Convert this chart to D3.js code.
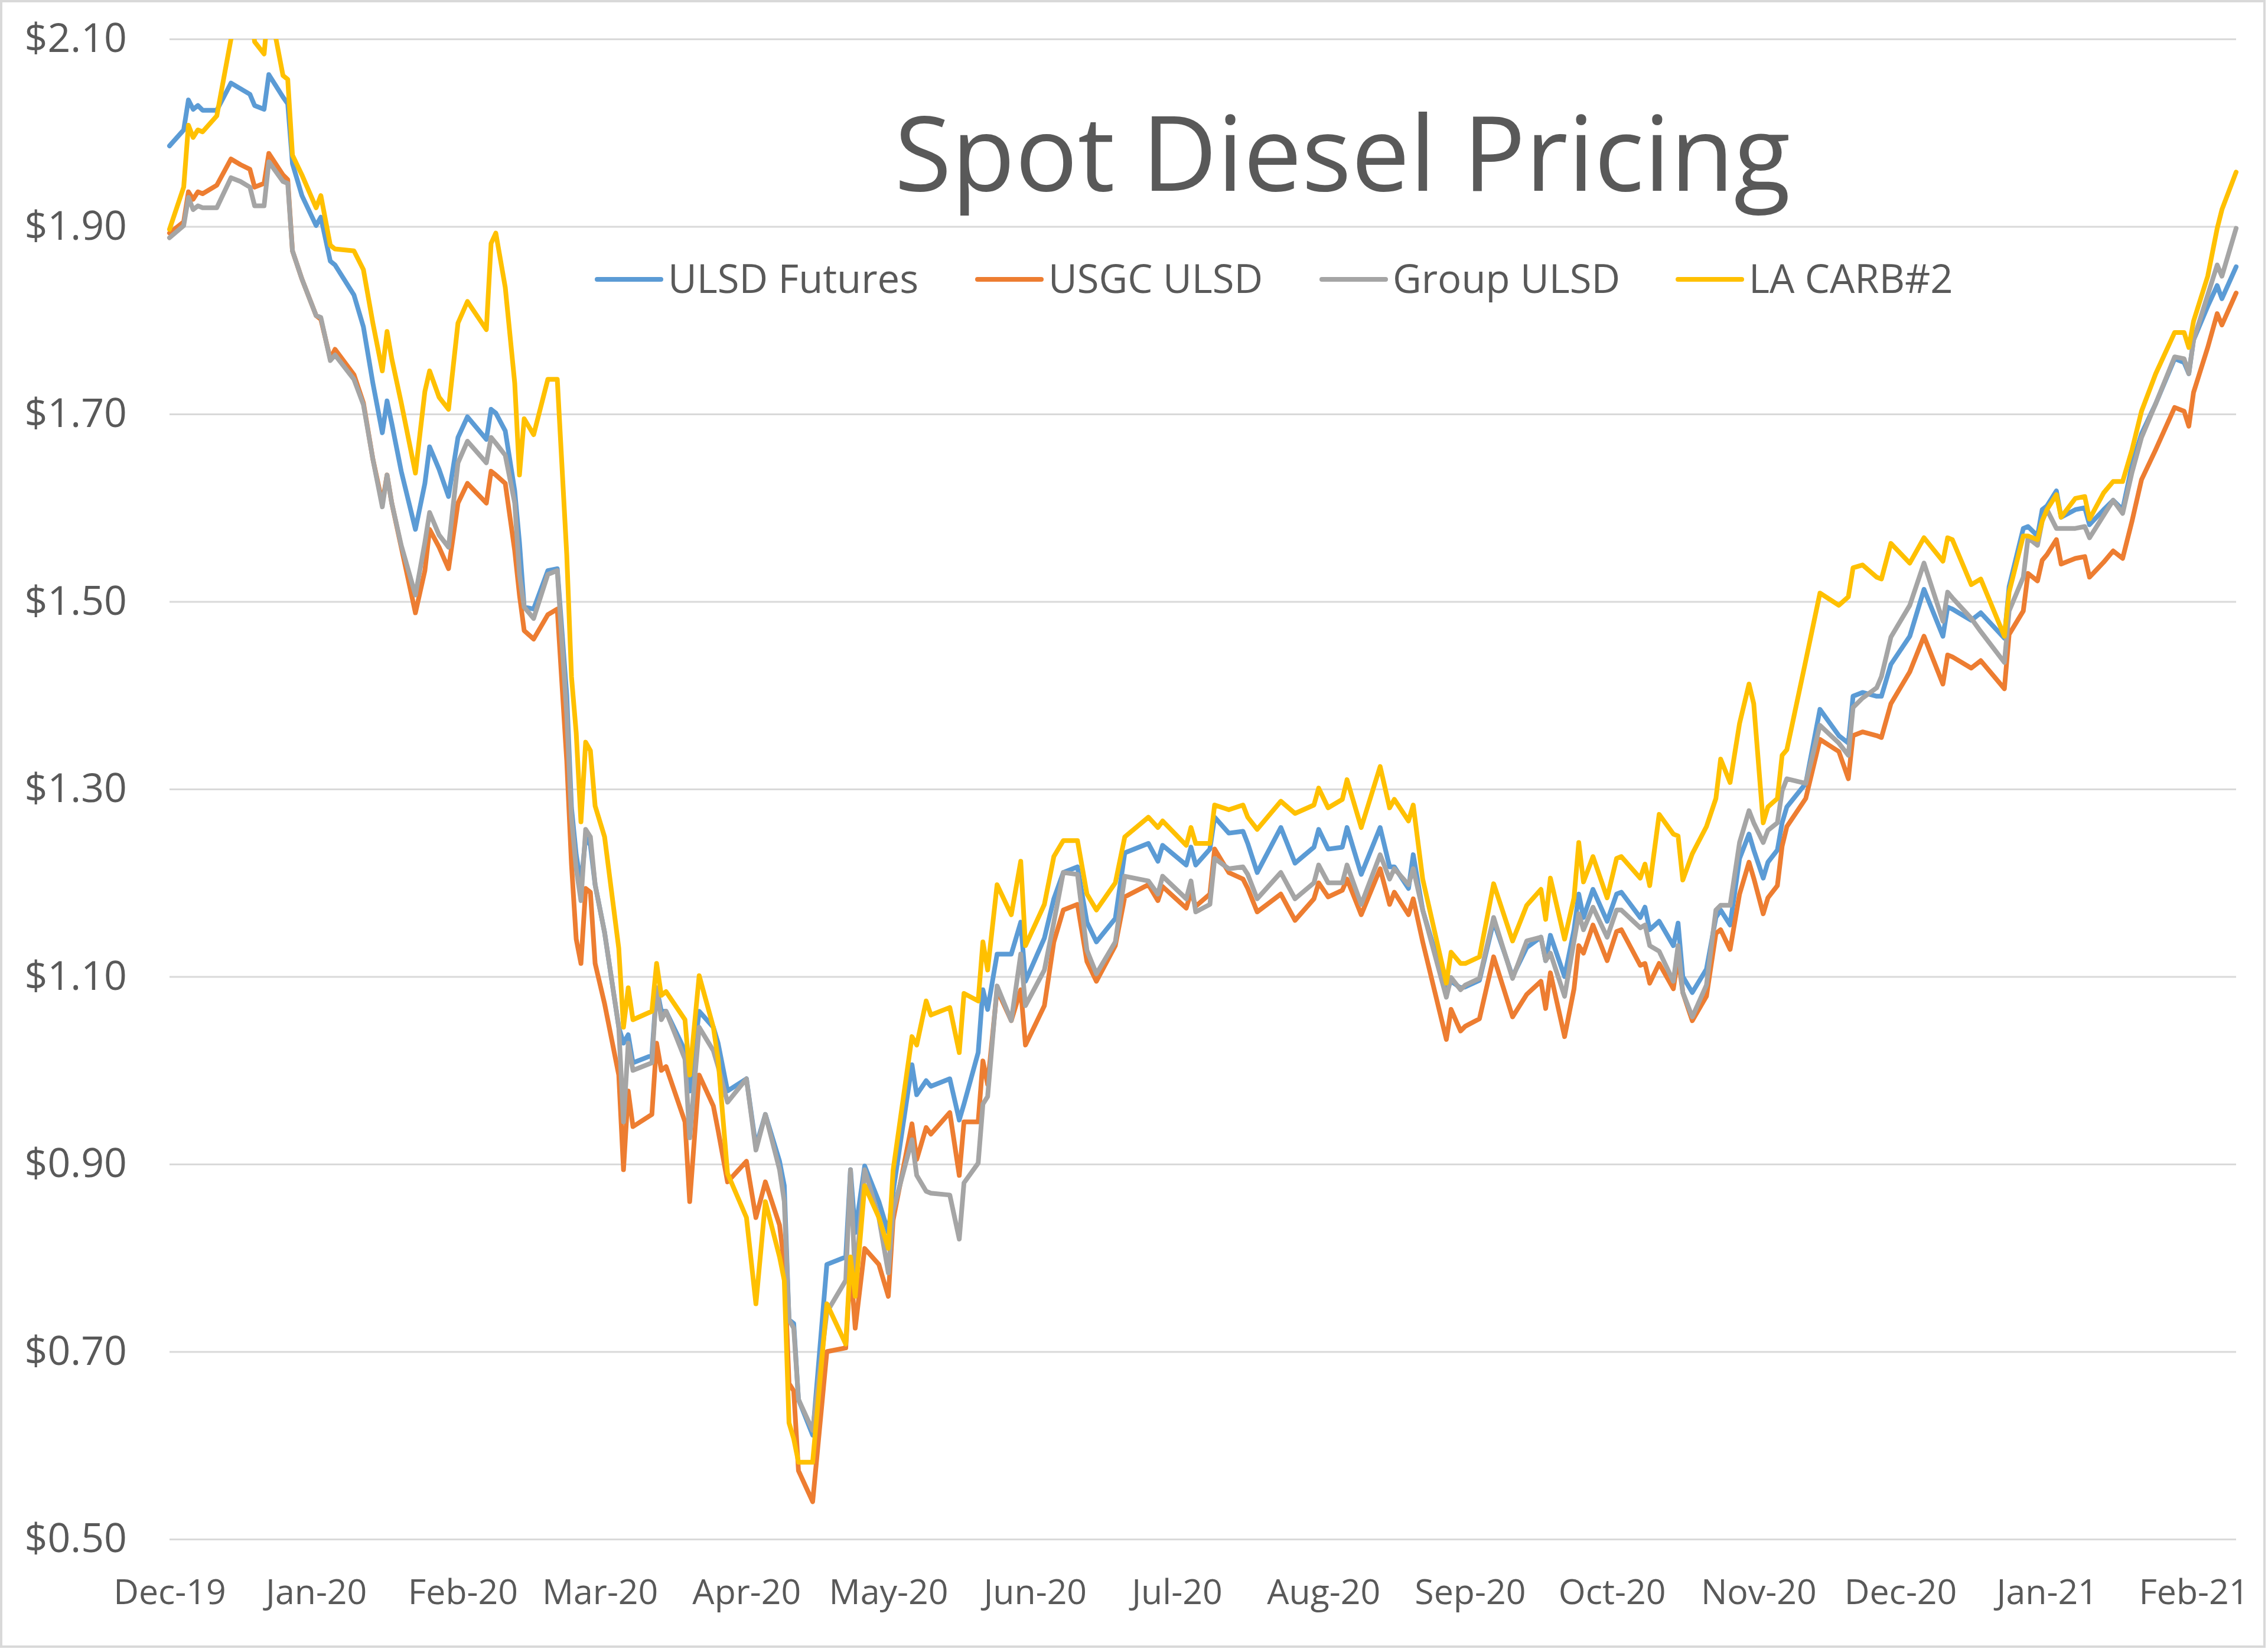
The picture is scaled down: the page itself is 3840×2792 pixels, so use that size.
<!DOCTYPE html>
<html><head><meta charset="utf-8">
<script src="https://cdn.jsdelivr.net/npm/d3@7"></script>
<style>html,body{margin:0;padding:0;background:#fff;} svg{display:block;}</style>
</head><body>
<svg id="chart" width="3840" height="2792"></svg>
<script>
const dates = [
"2019-12-02","2019-12-05","2019-12-06","2019-12-07","2019-12-08","2019-12-09","2019-12-12","2019-12-15","2019-12-17","2019-12-19",
"2019-12-20","2019-12-22","2019-12-23","2019-12-26","2019-12-27","2019-12-28","2019-12-30","2020-01-02","2020-01-03","2020-01-05",
"2020-01-06","2020-01-10","2020-01-12","2020-01-14","2020-01-16","2020-01-17","2020-01-18","2020-01-20","2020-01-23","2020-01-25",
"2020-01-26","2020-01-28","2020-01-30","2020-02-01","2020-02-03","2020-02-07","2020-02-08","2020-02-09","2020-02-11","2020-02-13",
"2020-02-14","2020-02-15","2020-02-17","2020-02-20","2020-02-22","2020-02-24","2020-02-25","2020-02-26","2020-02-27","2020-02-28",
"2020-02-29","2020-03-01","2020-03-03","2020-03-06","2020-03-07","2020-03-08","2020-03-09","2020-03-13","2020-03-14","2020-03-15",
"2020-03-16","2020-03-20","2020-03-21","2020-03-23","2020-03-26","2020-03-27","2020-03-29","2020-04-02","2020-04-04","2020-04-06",
"2020-04-09","2020-04-10","2020-04-11","2020-04-12","2020-04-13","2020-04-16","2020-04-19","2020-04-23","2020-04-24","2020-04-25",
"2020-04-27","2020-04-30","2020-05-02","2020-05-03","2020-05-07","2020-05-08","2020-05-10","2020-05-11","2020-05-15","2020-05-17",
"2020-05-18","2020-05-21","2020-05-22","2020-05-23","2020-05-25","2020-05-28","2020-05-30","2020-05-31","2020-06-04","2020-06-06",
"2020-06-08","2020-06-11","2020-06-13","2020-06-15","2020-06-19","2020-06-21","2020-06-26","2020-06-28","2020-06-29","2020-07-04",
"2020-07-05","2020-07-06","2020-07-09","2020-07-10","2020-07-13","2020-07-16","2020-07-17","2020-07-19","2020-07-24","2020-07-27",
"2020-07-31","2020-08-01","2020-08-03","2020-08-06","2020-08-07","2020-08-10","2020-08-14","2020-08-16","2020-08-17","2020-08-20",
"2020-08-21","2020-08-23","2020-08-28","2020-08-29","2020-08-31","2020-09-01","2020-09-04","2020-09-07","2020-09-11","2020-09-14",
"2020-09-17","2020-09-18","2020-09-19","2020-09-22","2020-09-24","2020-09-25","2020-09-26","2020-09-28","2020-10-01","2020-10-03",
"2020-10-04","2020-10-08","2020-10-09","2020-10-10","2020-10-12","2020-10-15","2020-10-16","2020-10-17","2020-10-19","2020-10-22",
"2020-10-24","2020-10-25","2020-10-27","2020-10-29","2020-10-31","2020-11-01","2020-11-03","2020-11-04","2020-11-06","2020-11-07",
"2020-11-08","2020-11-12","2020-11-15","2020-11-19","2020-11-21","2020-11-22","2020-11-24","2020-11-27","2020-11-28","2020-11-30",
"2020-12-04","2020-12-07","2020-12-11","2020-12-12","2020-12-13","2020-12-17","2020-12-19","2020-12-24","2020-12-25","2020-12-28",
"2020-12-29","2020-12-31","2021-01-01","2021-01-02","2021-01-04","2021-01-05","2021-01-08","2021-01-10","2021-01-11","2021-01-14",
"2021-01-16","2021-01-18","2021-01-20","2021-01-22","2021-01-25","2021-01-29","2021-01-31","2021-02-01","2021-02-02","2021-02-05",
"2021-02-07","2021-02-08","2021-02-11"
];

const ulsdFutures = [
1.986,2.003,2.035,2.025,2.029,2.024,2.024,2.053,2.047,2.041,
2.029,2.025,2.062,2.038,2.031,1.967,1.933,1.901,1.910,1.863,
1.859,1.827,1.793,1.733,1.680,1.714,1.690,1.639,1.577,1.626,
1.665,1.641,1.612,1.675,1.697,1.673,1.705,1.701,1.682,1.618,
1.563,1.494,1.492,1.533,1.535,1.400,1.280,1.230,1.198,1.249,
1.240,1.198,1.147,1.046,1.029,1.038,1.008,1.016,1.088,1.063,
1.063,1.021,0.978,1.063,1.046,1.029,0.978,0.991,0.919,0.953,
0.903,0.877,0.734,0.730,0.649,0.611,0.793,0.801,0.894,0.827,
0.898,0.860,0.827,0.870,1.006,0.974,0.989,0.983,0.991,0.947,
0.964,1.019,1.086,1.065,1.124,1.124,1.158,1.095,1.141,1.183,
1.211,1.217,1.158,1.137,1.162,1.232,1.242,1.223,1.240,1.219,
1.238,1.219,1.236,1.270,1.253,1.255,1.242,1.211,1.259,1.221,
1.238,1.257,1.236,1.238,1.259,1.209,1.259,1.217,1.217,1.194,
1.230,1.171,1.086,1.095,1.088,1.089,1.096,1.159,1.100,1.131,
1.142,1.117,1.144,1.100,1.150,1.188,1.163,1.193,1.159,1.188,
1.190,1.163,1.174,1.150,1.159,1.133,1.157,1.100,1.083,1.108,
1.163,1.171,1.155,1.226,1.252,1.235,1.205,1.222,1.235,1.264,
1.281,1.306,1.385,1.357,1.349,1.399,1.403,1.399,1.399,1.433,
1.463,1.513,1.463,1.494,1.492,1.480,1.488,1.461,1.516,1.578,
1.580,1.570,1.598,1.602,1.618,1.590,1.598,1.600,1.582,1.598,
1.608,1.598,1.646,1.679,1.711,1.759,1.755,1.743,1.779,1.815,
1.837,1.823,1.857
];

const usgcUlsd = [
1.893,1.905,1.937,1.929,1.937,1.935,1.944,1.972,1.966,1.961,
1.942,1.946,1.978,1.955,1.950,1.874,1.844,1.805,1.801,1.759,
1.769,1.742,1.712,1.652,1.605,1.635,1.605,1.558,1.488,1.533,
1.577,1.558,1.535,1.605,1.626,1.605,1.639,1.635,1.626,1.554,
1.507,1.469,1.460,1.486,1.492,1.330,1.220,1.140,1.114,1.194,
1.190,1.114,1.071,0.995,0.894,0.978,0.940,0.953,1.029,1.000,
1.004,0.945,0.860,0.995,0.962,0.936,0.881,0.903,0.843,0.881,
0.835,0.793,0.666,0.658,0.573,0.540,0.700,0.704,0.793,0.725,
0.810,0.793,0.759,0.840,0.943,0.905,0.939,0.932,0.955,0.888,
0.945,0.945,1.010,0.985,1.086,1.053,1.086,1.027,1.069,1.137,
1.171,1.177,1.116,1.095,1.133,1.185,1.198,1.181,1.196,1.173,
1.190,1.175,1.188,1.236,1.211,1.204,1.194,1.169,1.188,1.160,
1.183,1.200,1.185,1.192,1.204,1.166,1.215,1.177,1.190,1.166,
1.183,1.137,1.033,1.065,1.042,1.047,1.055,1.121,1.057,1.081,
1.095,1.066,1.104,1.036,1.087,1.133,1.125,1.155,1.117,1.148,
1.150,1.112,1.114,1.093,1.114,1.087,1.121,1.083,1.053,1.079,
1.146,1.150,1.129,1.188,1.222,1.205,1.167,1.184,1.197,1.239,
1.260,1.290,1.353,1.340,1.311,1.357,1.361,1.357,1.355,1.391,
1.425,1.463,1.412,1.443,1.441,1.429,1.437,1.407,1.465,1.490,
1.530,1.522,1.544,1.550,1.566,1.540,1.546,1.548,1.526,1.542,
1.554,1.546,1.586,1.630,1.662,1.707,1.703,1.687,1.723,1.771,
1.807,1.795,1.829
];

const groupUlsd = [
1.888,1.901,1.931,1.918,1.922,1.920,1.920,1.952,1.948,1.942,
1.922,1.922,1.969,1.948,1.946,1.874,1.844,1.805,1.803,1.757,
1.763,1.737,1.710,1.652,1.601,1.635,1.605,1.560,1.507,1.563,
1.595,1.571,1.558,1.648,1.671,1.648,1.675,1.669,1.656,1.605,
1.529,1.494,1.482,1.529,1.533,1.380,1.270,1.215,1.181,1.257,
1.249,1.198,1.147,1.046,0.945,1.029,1.000,1.008,1.088,1.054,
1.063,1.012,0.928,1.046,1.021,1.004,0.966,0.991,0.915,0.953,
0.894,0.860,0.734,0.725,0.649,0.616,0.742,0.776,0.894,0.776,
0.894,0.843,0.784,0.850,0.926,0.888,0.871,0.869,0.867,0.820,
0.880,0.901,0.964,0.972,1.090,1.053,1.124,1.069,1.107,1.158,
1.211,1.209,1.128,1.103,1.137,1.207,1.202,1.188,1.207,1.183,
1.202,1.169,1.177,1.226,1.215,1.217,1.209,1.183,1.211,1.183,
1.200,1.219,1.200,1.200,1.219,1.177,1.230,1.204,1.215,1.198,
1.215,1.171,1.078,1.099,1.086,1.091,1.098,1.163,1.098,1.138,
1.142,1.117,1.125,1.079,1.138,1.167,1.150,1.174,1.142,1.171,
1.171,1.152,1.155,1.133,1.127,1.095,1.133,1.083,1.057,1.091,
1.171,1.176,1.176,1.243,1.277,1.264,1.243,1.256,1.264,1.298,
1.311,1.306,1.368,1.349,1.336,1.387,1.397,1.408,1.420,1.462,
1.496,1.541,1.479,1.510,1.504,1.482,1.468,1.435,1.490,1.526,
1.568,1.560,1.586,1.598,1.578,1.578,1.578,1.580,1.568,1.592,
1.608,1.594,1.638,1.675,1.711,1.761,1.759,1.743,1.779,1.827,
1.859,1.847,1.898
];

const laCarb2 = [
1.897,1.942,2.008,1.995,2.003,2.001,2.018,2.100,2.160,2.140,
2.097,2.084,2.140,2.061,2.057,1.976,1.955,1.920,1.933,1.880,
1.876,1.874,1.854,1.797,1.746,1.788,1.759,1.712,1.637,1.724,
1.746,1.718,1.705,1.797,1.820,1.790,1.882,1.893,1.835,1.733,
1.635,1.695,1.678,1.737,1.737,1.550,1.420,1.360,1.265,1.350,
1.341,1.282,1.249,1.130,1.046,1.088,1.054,1.063,1.114,1.080,
1.084,1.054,0.995,1.101,1.046,1.012,0.890,0.843,0.751,0.860,
0.801,0.776,0.624,0.607,0.582,0.582,0.751,0.708,0.801,0.759,
0.877,0.843,0.810,0.893,1.036,1.027,1.074,1.059,1.067,1.019,
1.082,1.074,1.137,1.107,1.198,1.166,1.223,1.133,1.177,1.228,
1.245,1.245,1.188,1.171,1.200,1.249,1.270,1.259,1.266,1.240,
1.259,1.242,1.242,1.283,1.278,1.283,1.270,1.257,1.287,1.274,
1.283,1.301,1.280,1.289,1.310,1.259,1.324,1.280,1.289,1.266,
1.283,1.204,1.093,1.126,1.114,1.114,1.121,1.199,1.138,1.176,
1.193,1.161,1.205,1.140,1.184,1.243,1.201,1.228,1.184,1.226,
1.228,1.205,1.220,1.197,1.273,1.252,1.250,1.203,1.231,1.260,
1.290,1.332,1.307,1.370,1.412,1.391,1.264,1.281,1.290,1.336,
1.342,1.437,1.509,1.496,1.505,1.536,1.539,1.526,1.524,1.562,
1.541,1.568,1.543,1.568,1.566,1.518,1.524,1.463,1.510,1.570,
1.570,1.566,1.586,1.598,1.614,1.590,1.610,1.612,1.588,1.616,
1.628,1.628,1.662,1.703,1.743,1.787,1.787,1.771,1.799,1.847,
1.898,1.918,1.958
];

const seriesNames = ["ULSD Futures", "USGC ULSD", "Group ULSD", "LA CARB#2"];
const seriesColors = ["#5B9BD5", "#ED7D31", "#A5A5A5", "#FFC000"];
const yTicks = [0.5, 0.7, 0.9, 1.1, 1.3, 1.5, 1.7, 1.9, 2.1];
const xTickDates = ["2019-12-02","2020-01-02","2020-02-02","2020-03-02","2020-04-02","2020-05-02","2020-06-02","2020-07-02","2020-08-02","2020-09-02","2020-10-02","2020-11-02","2020-12-02","2021-01-02","2021-02-02"];
const xTickLabels = ["Dec-19","Jan-20","Feb-20","Mar-20","Apr-20","May-20","Jun-20","Jul-20","Aug-20","Sep-20","Oct-20","Nov-20","Dec-20","Jan-21","Feb-21"];
const chartTitle = "Spot Diesel Pricing";

// ---- layout ----
const W = 3840, H = 2792;
const plot = {left: 287, right: 3786, top: 66, bottom: 2606};
const FONT = "'Open Sans', sans-serif";
const TXT = "#595959";
const legendLayout = {y: 473, lineLen: 108, gap: 12, starts: [1011, 1655, 2238, 2841]};

const svg = d3.select("#chart");
svg.append("rect").attr("x",0).attr("y",0).attr("width",W).attr("height",H).attr("fill","#fff");
svg.append("rect").attr("x",2).attr("y",2).attr("width",W-8).attr("height",H-6)
  .attr("fill","none").attr("stroke","#d9d9d9").attr("stroke-width",4);

const parse = d3.utcParse("%Y-%m-%d");
const x = d3.scaleUtc().domain([parse(dates[0]), parse(dates[dates.length-1])]).range([plot.left, plot.right]);
const y = d3.scaleLinear().domain([0.5, 2.1]).range([plot.bottom, plot.top]);

// y axis + gridlines
const yAxis = d3.axisLeft(y).tickValues(yTicks).tickFormat(d => "$" + d.toFixed(2))
  .tickSize(-(plot.right - plot.left)).tickPadding(72);
const gy = svg.append("g").attr("transform", `translate(${plot.left},0)`).call(yAxis);
gy.select(".domain").remove();
gy.selectAll(".tick line").attr("stroke", "#d9d9d9").attr("stroke-width", 3);
gy.selectAll(".tick text").attr("fill", TXT).style("font-family", FONT).style("font-size", "68px");

// x axis
const xAxis = d3.axisBottom(x).tickValues(xTickDates.map(parse))
  .tickFormat((d, i) => xTickLabels[i]).tickSize(0).tickPadding(68);
const gx = svg.append("g").attr("transform", `translate(0,${plot.bottom})`).call(xAxis);
gx.select(".domain").remove();
gx.selectAll(".tick text").attr("fill", TXT).style("font-family", FONT).style("font-size", "59px");

// clip
svg.append("clipPath").attr("id","plotclip").append("rect")
  .attr("x", plot.left - 10).attr("y", plot.top).attr("width", plot.right - plot.left + 20).attr("height", plot.bottom - plot.top + 20);

const allSeries = [ulsdFutures, usgcUlsd, groupUlsd, laCarb2];
const line = d3.line().x((d, i) => x(parse(dates[i]))).y(d => y(d));
const gl = svg.append("g").attr("clip-path", "url(#plotclip)");
allSeries.forEach((vals, k) => {
  gl.append("path").datum(vals).attr("d", line)
    .attr("fill", "none").attr("stroke", seriesColors[k]).attr("stroke-width", 8)
    .attr("stroke-linejoin", "round").attr("stroke-linecap", "round");
});

// title
svg.append("text").attr("x", 2273).attr("y", 323).attr("text-anchor", "middle")
  .attr("fill", TXT).style("font-family", FONT).style("font-size", "176px").text(chartTitle);

// legend
const lg = svg.append("g");
seriesNames.forEach((name, k) => {
  const sx = legendLayout.starts[k];
  lg.append("line").attr("x1", sx).attr("x2", sx + legendLayout.lineLen)
    .attr("y1", legendLayout.y).attr("y2", legendLayout.y)
    .attr("stroke", seriesColors[k]).attr("stroke-width", 8).attr("stroke-linecap", "round");
  lg.append("text").attr("x", sx + legendLayout.lineLen + legendLayout.gap).attr("y", legendLayout.y)
    .attr("dy", "0.35em").attr("fill", TXT).style("font-family", FONT).style("font-size", "67px").text(name);
});
</script>
</body></html>
